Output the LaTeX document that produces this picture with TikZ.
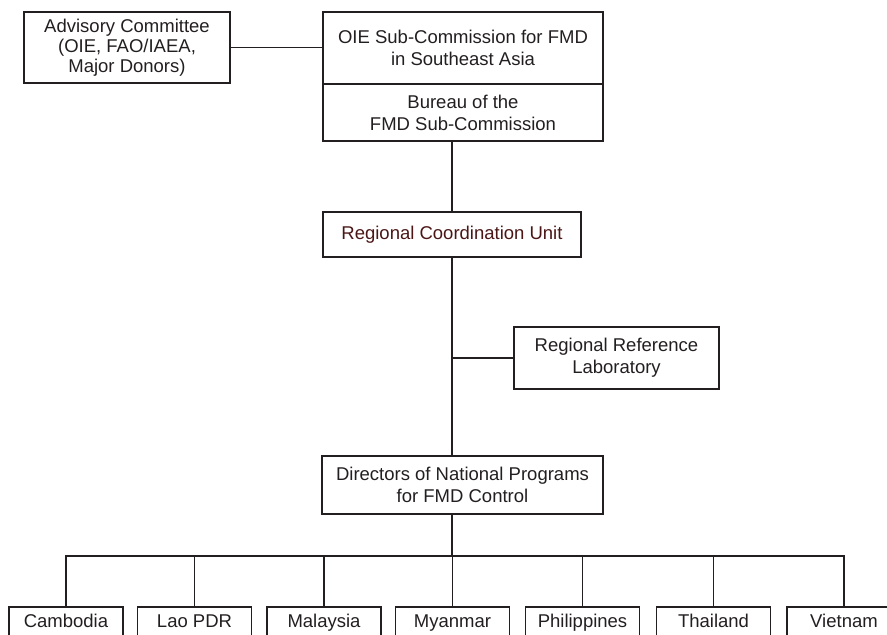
\documentclass[tikz,border=0pt]{standalone}
\usepackage{fontspec}
\setmainfont{Liberation Sans}
\usepackage{tikz}
\usetikzlibrary{positioning,calc}
\definecolor{OrgInk}{HTML}{231F20}
\definecolor{OrgBrown}{HTML}{4A1616}

\begin{document}
\begin{tikzpicture}[
    x=1pt, y=-1pt,
    box/.style={
      draw=OrgInk,
      line width=1.2pt,
      text=OrgInk,
      inner sep=0pt,
      minimum width=#1,
      align=center,
      font=\fontsize{18.5}{22}\selectfont
    },
    box/.default=114pt,
    country/.style={
      box,
      minimum height=32pt,
      text height=13.5pt,
      text depth=4pt
    },
    link/.style={
      line width=1.2pt,
      color=OrgInk
    }
  ]
  \useasboundingbox (0,0) rectangle (887,635);

  % Commission and advisors
  \node[box=206pt, minimum height=71pt, font=\fontsize{18.5}{20}\selectfont] (adv) at (127,47.5)
    {Advisory Committee\\(OIE, FAO/IAEA,\\Major Donors)};
  \node[box=280pt, minimum height=72pt] (oie)    at (463,48)    {OIE Sub-Commission for FMD\\in Southeast Asia};
  \node[box=280pt, minimum height=57pt] (bureau) at (463,112.5) {Bureau of the\\FMD Sub-Commission};

  % Coordination
  \node[box=258pt, minimum height=45pt, text=OrgBrown] (rcu) at (452,234.5) {Regional Coordination Unit};
  \node[box=205pt, minimum height=62pt] (lab) at (616.5,358) {Regional Reference\\Laboratory};
  \node[box=281pt, minimum height=58pt] (dir) at (462.5,485) {Directors of National Programs\\for FMD Control};

  % Countries
  \node[country] (khm) at (66,623)    {Cambodia};
  \node[country] (lao) at (194.5,623) {Lao PDR};
  \node[country] (mys) at (324,623)   {Malaysia};
  \node[country] (mmr) at (452.5,623) {Myanmar};
  \node[country] (phl) at (582.5,623) {Philippines};
  \node[country] (tha) at (713.5,623) {Thailand};
  \node[country] (vnm) at (844,623)   {Vietnam};

  \coordinate (bus) at (452,556);

  % Lines
  \draw[link] (adv.east) -- (adv.east -| oie.west);
  \draw[link] (bureau.south -| rcu.north) -- (rcu.north);
  \draw[link] (rcu.south) -- (rcu.south |- dir.north);
  \draw[link] (lab.west) -- (lab.west -| rcu.south);
  \draw[link] (dir.south -| rcu.south) -- (bus);
  \foreach \c in {khm,lao,mys,mmr,phl,tha,vnm}
    \draw[link] (\c.north) |- (bus);

\end{tikzpicture}
\end{document}
